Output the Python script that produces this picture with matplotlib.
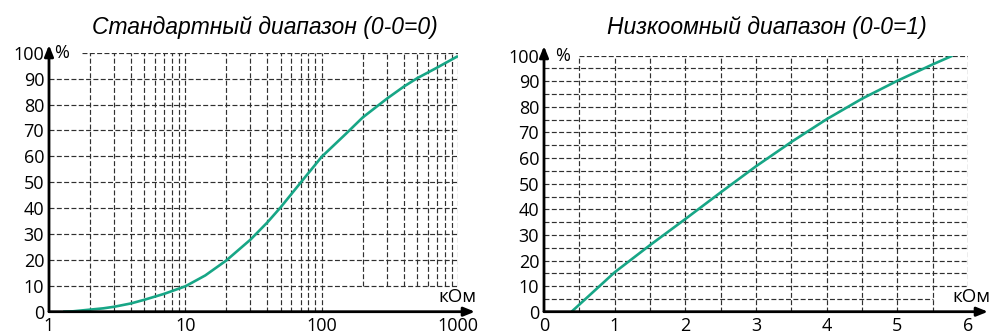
import matplotlib
matplotlib.use("Agg")
import matplotlib.pyplot as plt

# ---- data ----
std_x = [1.27, 1.5, 2, 2.5, 3, 4, 5, 7, 10, 14, 20, 30, 40, 50, 70, 100, 150, 200, 300, 400, 500, 700, 1000]
std_y = [0.0, 0.15, 0.8, 1.3, 1.9, 3.2, 4.6, 6.9, 9.8, 14.0, 19.8, 27.8, 34.5, 40.3, 49.8, 59.8, 68.6, 75.0, 82.2, 86.9, 90.1, 94.2, 98.7]

low_x = [0.39, 1.0, 1.5, 2.0, 2.5, 3.0, 3.5, 4.0, 4.5, 5.0, 5.5, 5.78]
low_y = [0.0, 15.4, 26.0, 36.2, 46.6, 56.8, 66.3, 75.2, 83.2, 90.2, 96.6, 100.0]

std_title = "Стандартный диапазон (0-0=0)"
low_title = "Низкоомный диапазон (0-0=1)"
x_unit = "кОм"
y_unit = "%"
std_xticks = [1, 10, 100, 1000]
low_xticks = [0, 1, 2, 3, 4, 5, 6]
yticks = [0, 10, 20, 30, 40, 50, 60, 70, 80, 90, 100]

CURVE = "#17a686"
GRID = "#303030"
DASH = (0, (4.2, 2.0))
TICKFONT = "Open Sans"
FS = 13

W, H = 992, 335
fig = plt.figure(figsize=(W / 100, H / 100), dpi=100)


def frac_axes(x0, x1, y0, y1):
    # pixel box -> figure fraction (y measured from top)
    return fig.add_axes([x0 / W, (H - y0) / H, (x1 - x0) / W, (y0 - y1) / H])


def style(ax):
    for s in ax.spines.values():
        s.set_visible(False)
    ax.tick_params(length=0, pad=3.5)
    ax.set_ylim(0, 100)
    ax.set_yticks(yticks)
    ax.set_yticklabels([str(v) for v in yticks], fontfamily=TICKFONT, fontsize=FS)


def arrows(ax, xend, yend):
    kw = dict(arrowstyle="-|>,head_length=0.55,head_width=0.22", color="black", lw=2.0,
              shrinkA=0, shrinkB=0, mutation_scale=12)
    ax.annotate("", xy=(xend, 0), xytext=(0, 0), xycoords="axes fraction",
                arrowprops=kw, annotation_clip=False)
    ax.annotate("", xy=(0, yend), xytext=(0, 0), xycoords="axes fraction",
                arrowprops=kw, annotation_clip=False)


gkw = dict(colors=GRID, linestyles=DASH, linewidth=0.85, zorder=1)

# ---------- left chart (log) ----------
axL = frac_axes(49, 458, 311.7, 52.7)
axL.set_xscale("log")
axL.set_xlim(1, 1000)
style(axL)
axL.set_xticks(std_xticks)
axL.set_xticklabels([str(v) for v in std_xticks], fontfamily=TICKFONT, fontsize=FS)
axL.minorticks_off()
axL.tick_params(which="minor", length=0)

for yv in range(10, 100, 10):
    axL.hlines(yv, 1, 1000, **gkw)
axL.hlines(100, 1.75, 1000, **gkw)
for dec in (1, 10):
    for m in range(2, 10):
        axL.vlines(m * dec, 0, 100, **gkw)
axL.vlines(10, 0, 100, **gkw)
axL.vlines(100, 0, 100, **gkw)
for m in range(2, 11):
    axL.vlines(m * 100, 10, 100, **gkw)

axL.plot(std_x, std_y, color=CURVE, lw=1.9, zorder=3, solid_capstyle="butt")
arrows(axL, (475 - 49) / 409, (311.7 - 45) / 259)
axL.text(0.012, 1.0, y_unit, transform=axL.transAxes, fontsize=FS, fontfamily=TICKFONT,
         ha="left", va="center")
axL.text((476 - 49) / 409, (311.7 - 297) / 259, x_unit, transform=axL.transAxes, fontsize=13.5,
         fontfamily=TICKFONT, ha="right", va="center")
fig.text(265 / W, 1 - 34 / H, std_title, ha="center", va="baseline", fontsize=16.5,
         fontstyle="italic", fontfamily="Liberation Sans")

# ---------- right chart (linear) ----------
axR = frac_axes(544, 968, 311.7, 55.7)
axR.set_xlim(0, 6)
style(axR)
axR.set_xticks(low_xticks)
axR.set_xticklabels([str(v) for v in low_xticks], fontfamily=TICKFONT, fontsize=FS)

axR.hlines(5, 0, 5.5, **gkw)
for yv in range(10, 100, 5):
    axR.hlines(yv, 0, 6, **gkw)
axR.hlines(100, 0.5, 6, **gkw)
for k in range(1, 12):
    axR.vlines(k * 0.5, 0, 100, **gkw)
axR.vlines(6, 10, 100, **gkw)

axR.plot(low_x, low_y, color=CURVE, lw=1.9, zorder=3, solid_capstyle="butt")
arrows(axR, (988 - 544) / 424, (311.7 - 46) / 256)
axR.text(0.026, 1.0, y_unit, transform=axR.transAxes, fontsize=FS, fontfamily=TICKFONT,
         ha="left", va="center")
axR.text((990 - 544) / 424, (311.7 - 297) / 256, x_unit, transform=axR.transAxes, fontsize=13.5,
         fontfamily=TICKFONT, ha="right", va="center")
fig.text(767 / W, 1 - 34 / H, low_title, ha="center", va="baseline", fontsize=16.5,
         fontstyle="italic", fontfamily="Liberation Sans")

fig.savefig("out.png", dpi=100)
